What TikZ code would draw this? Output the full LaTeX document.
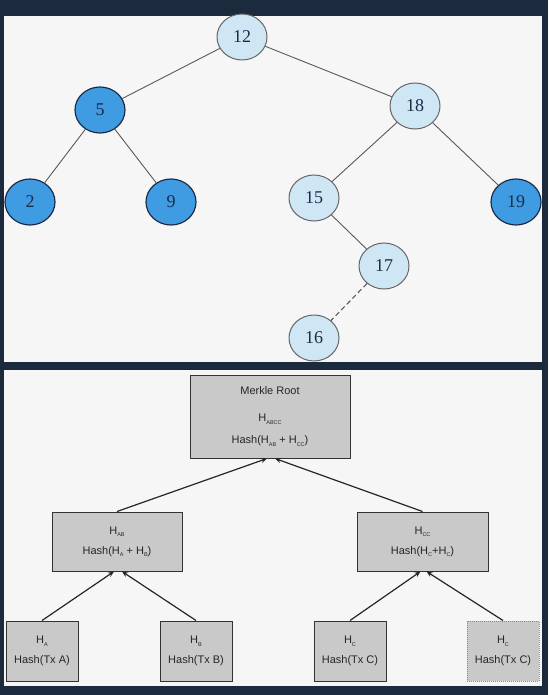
\documentclass[tikz,border=0pt]{standalone}
\usepackage{fontspec}
\newfontfamily\hashfont{Liberation Sans}
\newfontfamily\keyfont{Liberation Serif}
\usetikzlibrary{shapes.geometric,arrows.meta}
\definecolor{frame}{HTML}{1B2A3D}
\definecolor{paper}{HTML}{F6F6F6}
\definecolor{lightfill}{HTML}{CFE6F4}
\definecolor{darkfill}{HTML}{3F9BE2}
\definecolor{numtext}{HTML}{1C2B4A}
\definecolor{boxfill}{HTML}{C9C9C9}
\newcommand{\hs}[1]{\raisebox{-2.5pt}{\fontsize{5.5}{5.5}\selectfont #1}}
\tikzset{
  keynode/.style={ellipse, minimum width=50pt, minimum height=46pt, inner sep=0pt, font=\keyfont\fontsize{18}{18}\selectfont, text=numtext},
  lightkey/.style={keynode, fill=lightfill, draw=black!60, line width=1pt},
  darkkey/.style={keynode, fill=darkfill, draw=numtext, line width=1.2pt},
  treeedge/.style={draw=black!65, line width=0.9pt},
  hashbox/.style={rectangle, fill=boxfill, draw=black!80, line width=1pt, inner sep=0pt, font=\hashfont\fontsize{11}{12}\selectfont, align=center, text=black!85},
  hasharrow/.style={draw=black!85, line width=1.2pt, -{Stealth[length=6pt,width=5pt]}},
}

\begin{document}
\begin{tikzpicture}[x=1pt,y=-1pt]
\fill[frame] (0,0) rectangle (548,695);
\fill[paper] (4,16) rectangle (542,362);
\fill[paper] (4,370) rectangle (542,686);

% search tree
\node[lightkey] (n12) at (242,37) {12};
\node[darkkey]  (n5)  at (100,110) {5};
\node[lightkey] (n18) at (415,106) {18};
\node[darkkey]  (n2)  at (30,202) {2};
\node[darkkey]  (n9)  at (171,202) {9};
\node[lightkey] (n15) at (314,198) {15};
\node[darkkey]  (n19) at (516,202) {19};
\node[lightkey] (n17) at (384,266) {17};
\node[lightkey] (n16) at (314,338) {16};
\path[treeedge] (n12) -- (n5) (n12) -- (n18);
\path[treeedge] (n5) -- (n2) (n5) -- (n9);
\path[treeedge] (n18) -- (n15) (n18) -- (n19);
\path[treeedge] (n15) -- (n17);
\path[treeedge, line width=1.1pt, dash pattern=on 5pt off 3pt] (n17) -- (n16);

% merkle tree
\node[hashbox, minimum width=160pt, minimum height=83pt] (root) at (270,416.5)
  {\raisebox{2.5pt}{Merkle Root}\\[15pt] \raisebox{2.5pt}{H\hs{ABCC}}\\[10pt] \raisebox{2.5pt}{Hash(H\hs{AB} + H\hs{CC})}};
\node[hashbox, minimum width=130pt, minimum height=59pt] (hab) at (117,541.5)
  {H\hs{AB}\\[8pt] Hash(H\hs{A} + H\hs{B})};
\node[hashbox, minimum width=131pt, minimum height=59pt] (hcc) at (422.5,541.5)
  {H\hs{CC}\\[8pt] Hash(H\hs{C}+H\hs{C})};
\node[hashbox, minimum width=72pt, minimum height=60pt] (ha) at (42,651)
  {H\hs{A}\\[8pt] Hash(Tx A)};
\node[hashbox, minimum width=72pt, minimum height=60pt] (hb) at (196,651)
  {H\hs{B}\\[8pt] Hash(Tx B)};
\node[hashbox, minimum width=72pt, minimum height=60pt] (hc) at (350,651)
  {H\hs{C}\\[8pt] Hash(Tx C)};
\node[hashbox, minimum width=72pt, minimum height=60pt, draw=black!45, densely dotted] (hcdup) at (503,651)
  {H\hs{C}\\[8pt] Hash(Tx C)};
\draw[hasharrow] (hab.north) -- ([xshift=-3pt]root.south);
\draw[hasharrow] (hcc.north) -- ([xshift=5pt]root.south);
\draw[hasharrow] (ha.north) -- ([xshift=-3pt]hab.south);
\draw[hasharrow] (hb.north) -- ([xshift=5pt]hab.south);
\draw[hasharrow] (hc.north) -- ([xshift=-2pt]hcc.south);
\draw[hasharrow] (hcdup.north) -- ([xshift=4pt]hcc.south);
\end{tikzpicture}
\end{document}
